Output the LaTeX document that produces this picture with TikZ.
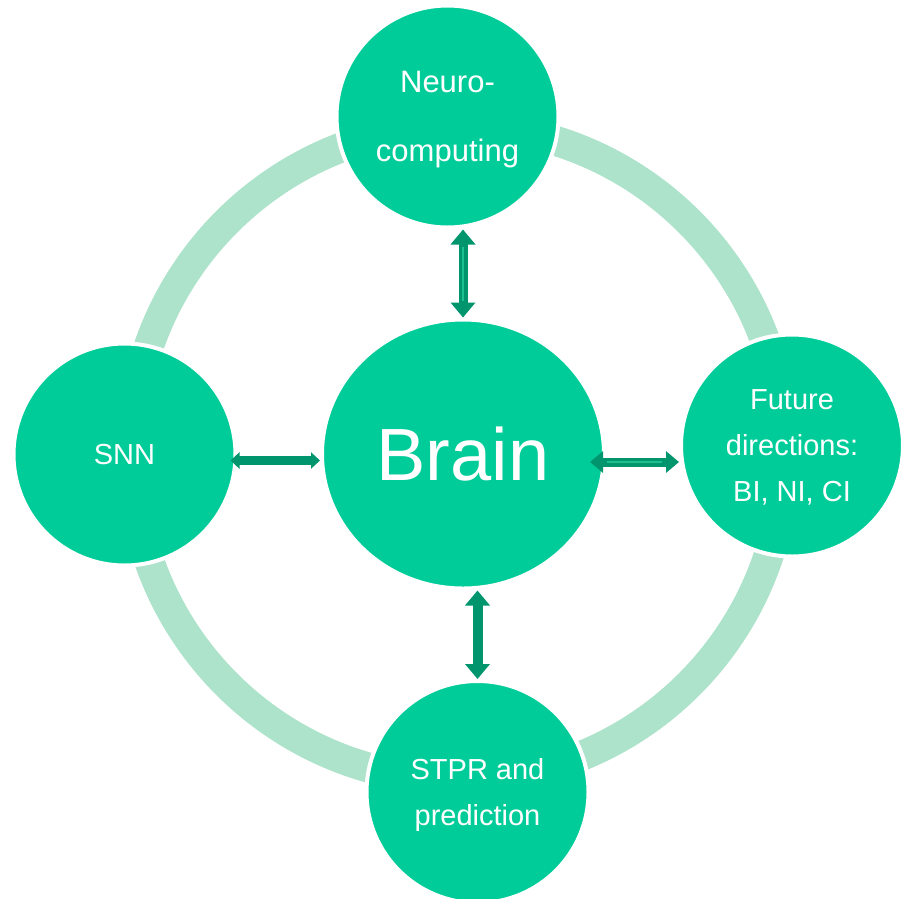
\documentclass[tikz,border=0pt]{standalone}
\usepackage{fontspec}
\setmainfont{Liberation Sans}
\usetikzlibrary{arrows.meta,shapes.geometric}
\definecolor{leaf}{HTML}{00CC99}
\definecolor{rim}{HTML}{ACE3CA}
\definecolor{stem}{HTML}{00956D}
\definecolor{vein}{HTML}{1CC08F}

\begin{document}
\begin{tikzpicture}[x=1pt,y=-1pt,
  topic/.style={circle,minimum size=222pt,inner sep=0pt,fill=leaf,draw=white,line width=4pt,
    text=white,align=center,text depth=0pt,font=\fontsize{29}{46}\selectfont},
  link/.style={draw=stem,line width=9pt,{Triangle[width=24pt,length=15pt]}-{Triangle[width=24pt,length=15pt]}},
  hollow/.style={postaction={draw=vein,line width=1.5pt,-,shorten <=17pt,shorten >=17pt}}]
  \useasboundingbox (0,0) rectangle (907,898);
  \coordinate (hub) at (458,453);
  \draw[rim,line width=30pt] (hub) circle[radius=327];

  \node[topic,ellipse,minimum width=282pt,minimum height=269pt,font=\fontsize{74}{80}\selectfont] (brain) at (463,454) {Brain};
  \node[topic,font=\fontsize{31}{69}\selectfont] (neuro) at (447.5,116.5) {Neuro-\\computing};
  \node[topic] (snn) at (124.5,454.5) {SNN};
  \node[topic] (future) at (792,445.5) {Future\\directions:\\BI, NI, CI};
  \node[topic] (stpr) at (477.5,792) {STPR and\\prediction};

  \draw[link,hollow] (brain.north) -- (brain.north |- neuro.south);
  \draw[link,line width=10pt] (stpr.north) -- (stpr.north |- brain.south);
  \draw[link,{Triangle[width=16pt,length=9pt]}-{Triangle[width=16pt,length=9pt]}]
    ([xshift=-7pt,yshift=-6pt]snn.east) -- ([yshift=-6pt]snn.east -| brain.west);
  \draw[link,hollow,{Triangle[width=21pt,length=13pt]}-{Triangle[width=21pt,length=13pt]}]
    ([xshift=-16pt,yshift=-8pt]brain.east) -- ([yshift=-8pt]brain.east -| future.west);
\end{tikzpicture}
\end{document}
